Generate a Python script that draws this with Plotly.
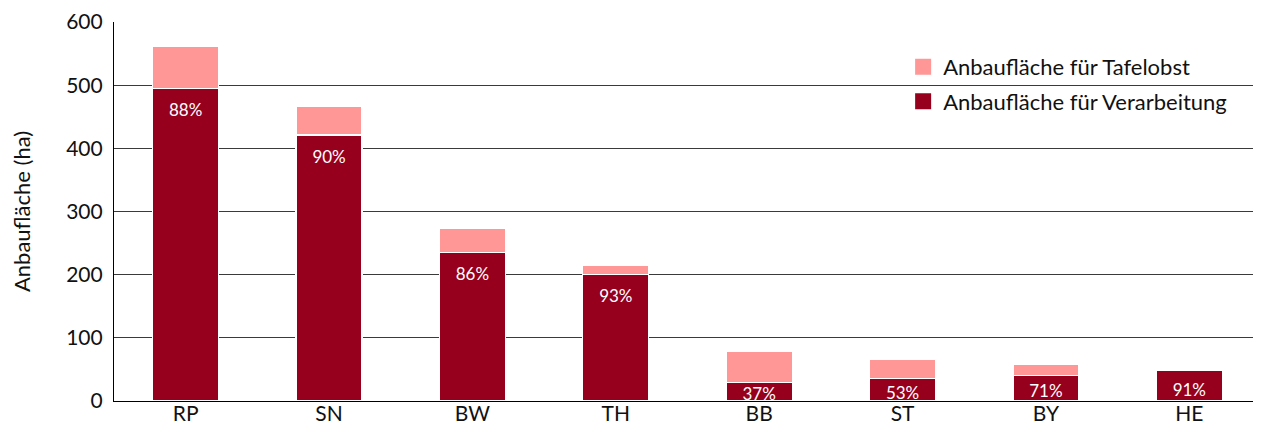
import plotly.graph_objects as go

# Bundesländer
laender = ["RP", "SN", "BW", "TH", "BB", "ST", "BY", "HE"]
# Anbaufläche (ha)
verarbeitung = [495, 421, 235, 200, 29, 35, 41, 48]
tafelobst = [67, 46, 38, 15, 49, 31, 17, 0]
anteil = ["88%", "90%", "86%", "93%", "37%", "53%", "71%", "91%"]

DARK = "#97001D"
PINK = "#FF9797"
FONT = "Lato, Open Sans, sans-serif"

# the page body has an 8px margin, so the figure is a bit smaller than the window
W, H = 1253, 433
L, T, B = 106, 10, 40

fig = go.Figure()
fig.add_trace(go.Bar(x=laender, y=verarbeitung, name="Anbaufläche für Verarbeitung",
                     marker=dict(color=DARK, line=dict(color="white", width=1.2)),
                     showlegend=False, hoverinfo="skip"))
fig.add_trace(go.Bar(x=laender, y=tafelobst, name="Anbaufläche für Tafelobst",
                     marker=dict(color=PINK, line=dict(color="white", width=1.2)),
                     showlegend=False, hoverinfo="skip"))

# percentage labels near the top of the dark segment (clipped by the axis for small bars)
lab_y = [v - min(37, 0.7 * v) for v in verarbeitung]
fig.add_trace(go.Scatter(x=laender, y=lab_y, mode="text", text=anteil,
                         textposition="middle center", cliponaxis=True,
                         textfont=dict(family=FONT, size=17, color="white"),
                         showlegend=False, hoverinfo="skip"))

# legend entries with bigger square swatches
for name, col, rank in [("Anbaufläche für Tafelobst", PINK, 1),
                        ("Anbaufläche für Verarbeitung", DARK, 2)]:
    fig.add_trace(go.Scatter(x=[None], y=[None], mode="markers", name=name,
                             legendrank=rank, legendgroup=name,
                             marker=dict(symbol="square", size=17, color=col,
                                         line=dict(width=0))))

# white patch behind the legend (hides the gridline there)
pw = W - L
fig.add_shape(type="rect", xref="paper", yref="paper", layer="between",
              x0=(854 - L) / pw, x1=(1224 - L) / pw, y0=0.73, y1=0.93,
              fillcolor="white", line=dict(width=0))

fig.update_layout(
    width=W, height=H, barmode="stack", bargap=0.54,
    font=dict(family=FONT, size=21, color="#111"),
    paper_bgcolor="white", plot_bgcolor="white",
    margin=dict(l=L, r=0, t=T, b=B),
    legend=dict(x=0.688, y=0.937, xanchor="left", yanchor="top",
                traceorder="grouped", tracegroupgap=3,
                bgcolor="rgba(0,0,0,0)", font=dict(size=22)),
)
fig.update_xaxes(showline=True, linecolor="black", linewidth=1.2, ticks="",
                 showgrid=False, range=[-0.5, 7.5], ticklabelstandoff=-6)
fig.update_yaxes(range=[0, 600], dtick=100, showgrid=True, gridcolor="#3a3a3a", gridwidth=1,
                 showline=True, linecolor="black", linewidth=1.2, ticks="",
                 ticklabelstandoff=6, zeroline=False, ticklabeloverflow="allow",
                 title=dict(text="Anbaufläche (ha)", standoff=38, font=dict(size=22)))

fig.write_html("out.html")
